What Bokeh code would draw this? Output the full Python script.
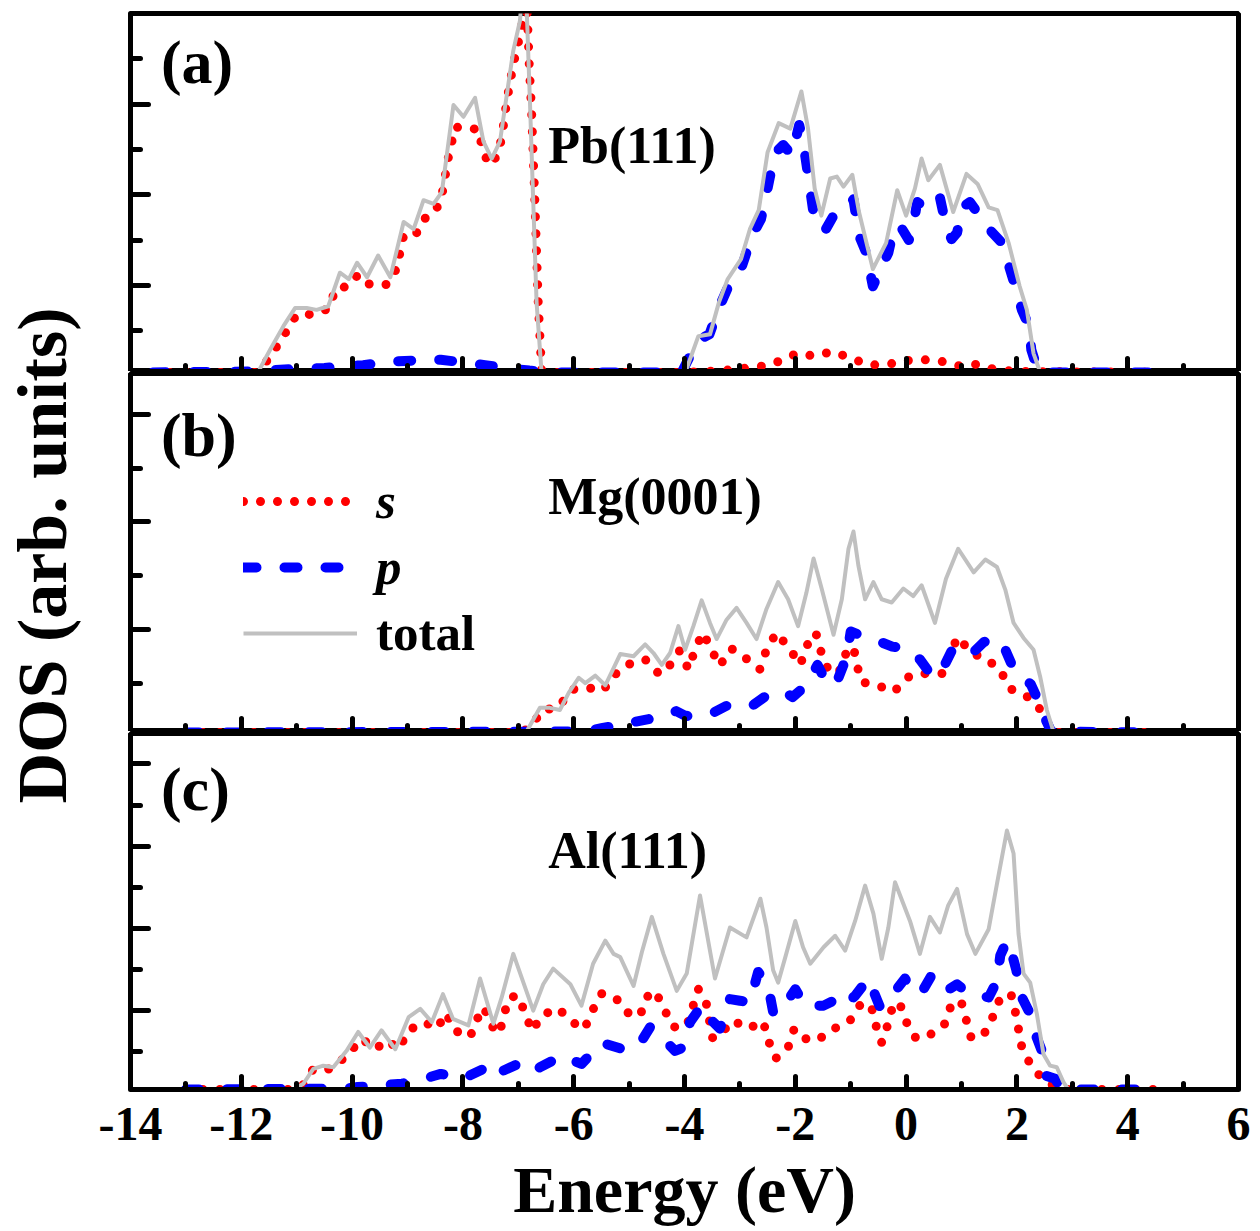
from bokeh.plotting import figure
from bokeh.layouts import column, row
from bokeh.models import Range1d, FixedTicker, Label, Legend, LegendItem
from bokeh.embed import file_html
from bokeh.resources import INLINE

SERIF = "Liberation Serif"

# ---------------- data (energy in eV, DOS in arb. units) ----------------
x_ticks = [-14, -12, -10, -8, -6, -4, -2, 0, 2, 4, 6]
x_tick_labels = ["-14", "-12", "-10", "-8", "-6", "-4", "-2", "0", "2", "4", "6"]
x_minor = [-13, -11, -9, -7, -5, -3, -1, 1, 3, 5]

# Panel (a) Pb(111)
a_total_E = [-13.6, -11.7, -11.48, -11.24, -11.03, -10.82, -10.64, -10.43, -10.22, -10.06, -9.91, -9.73,
             -9.53, -9.31, -9.07, -8.89, -8.71, -8.53, -8.38, -8.17, -7.99, -7.78, -7.63, -7.48, -7.33,
             -7.18, -7.09, -6.97, -6.88, -6.79, -6.73, -6.67, -6.58, -4.0, -3.95, -3.75, -3.54, -3.38,
             -3.22, -2.98, -2.82, -2.66, -2.50, -2.30, -2.09, -1.89, -1.77, -1.65, -1.53, -1.37, -1.25,
             -1.13, -0.97, -0.85, -0.60, -0.36, -0.16, 0.0, 0.16, 0.28, 0.40, 0.61, 0.85, 1.09, 1.29,
             1.49, 1.65, 1.85, 2.05, 2.18, 2.30, 2.42, 4.6]
a_total = [0.04, 0.04, 0.29, 0.55, 0.75, 0.75, 0.73, 0.77, 1.14, 1.07, 1.25, 1.09,
           1.33, 1.09, 1.70, 1.62, 1.94, 1.90, 2.03, 2.99, 2.86, 3.07, 2.59, 2.40, 2.59,
           3.22, 3.59, 3.92, 4.6, 3.03, 1.92, 0.81, 0.04, 0.04, 0.10, 0.44, 0.46, 0.81,
           1.07, 1.29, 1.62, 1.83, 2.47, 2.79, 2.73, 3.14, 2.73, 2.07, 1.77, 2.18, 2.20,
           2.09, 2.22, 1.81, 1.18, 1.47, 2.05, 1.77, 2.07, 2.40, 2.16, 2.33, 1.81, 2.23, 2.12,
           1.86, 1.83, 1.47, 0.99, 0.73, 0.25, 0.04, 0.04]

a_s_E = [-13.6, -11.75, -11.63, -11.42, -11.21, -11.0, -10.70, -10.40, -10.31, -10.07, -9.89, -9.68,
         -9.38, -9.20, -9.07, -8.86, -8.71, -8.50, -8.38, -8.26, -8.14, -7.93, -7.73, -7.66, -7.54,
         -7.39, -7.30, -7.21, -7.09, -7.0, -6.91, -6.87, -6.80, -6.76, -6.70, -6.64, -6.58, -6.5,
         -4.0, -3.63, -3.3, -3.0, -2.66, -2.3, -1.97, -1.65, -1.34, -1.0, -0.68, -0.32, 0.0, 0.32,
         0.65, 0.97, 1.28, 1.61, 2.0, 4.6]
a_s = [0.04, 0.04, 0.09, 0.27, 0.47, 0.68, 0.68, 0.75, 0.96, 0.99, 1.12, 1.01,
       1.01, 1.18, 1.55, 1.55, 1.73, 1.81, 1.99, 2.42, 2.75, 2.72, 2.73, 2.55, 2.33,
       2.42, 2.62, 3.03, 3.44, 3.68, 3.95, 4.5, 3.4, 2.92, 1.92, 0.81, 0.07, 0.04,
       0.04, 0.05, 0.06, 0.08, 0.10, 0.16, 0.25, 0.22, 0.27, 0.20, 0.12, 0.13, 0.17, 0.18,
       0.16, 0.11, 0.13, 0.07, 0.05, 0.04]

a_p_E = [-13.6, -11.8, -11.3, -10.5, -9.8, -9.3, -8.9, -8.4, -8.0, -7.6, -7.1, -6.8, -6.4,
         -4.05, -3.91, -3.75, -3.55, -3.38, -3.2, -2.98, -2.78, -2.62, -2.54, -2.45, -2.38, -2.22,
         -2.06, -1.93, -1.86, -1.77, -1.66, -1.56, -1.45, -1.3, -1.09, -0.95, -0.85, -0.72, -0.6,
         -0.45, -0.32, -0.24, -0.12, 0.05, 0.16, 0.2, 0.4, 0.61, 0.72, 0.82, 0.92, 1.01, 1.15,
         1.28, 1.53, 1.73, 1.86, 1.97, 2.09, 2.22, 2.26, 2.38, 2.5, 4.6]
a_p = [0.04, 0.05, 0.07, 0.09, 0.12, 0.16, 0.17, 0.18, 0.15, 0.12, 0.08, 0.06, 0.04,
       0.04, 0.21, 0.40, 0.46, 0.75, 1.0, 1.18, 1.55, 1.73, 1.95, 2.22, 2.45, 2.55,
       2.44, 2.77, 2.59, 2.22, 1.75, 1.62, 1.62, 1.78, 1.83, 1.95, 1.55, 1.36, 0.99,
       1.2, 1.36, 1.58, 1.67, 1.5, 1.77, 1.92, 1.84, 1.97, 1.66, 1.51, 1.58, 1.86, 1.92,
       1.81, 1.6, 1.47, 1.21, 0.99, 0.73, 0.55, 0.29, 0.06, 0.04, 0.04]

# Panel (b) Mg(0001)
b_total_E = [-13.0, -7.0, -6.85, -6.61, -6.43, -6.25, -6.09, -5.91, -5.79, -5.61, -5.43, -5.28, -5.16,
             -4.92, -4.71, -4.56, -4.41, -4.26, -4.11, -3.99, -3.84, -3.69, -3.54, -3.42, -3.24, -3.06,
             -2.88, -2.70, -2.52, -2.31, -2.13, -1.95, -1.80, -1.67, -1.52, -1.31, -1.16, -1.04, -0.95,
             -0.86, -0.74, -0.59, -0.44, -0.26, -0.05, 0.13, 0.28, 0.52, 0.72, 0.94, 1.22, 1.43, 1.64,
             1.79, 1.94, 2.12, 2.30, 2.42, 2.54, 2.66, 4.5]
b_total = [0.04, 0.04, 0.05, 0.27, 0.27, 0.25, 0.41, 0.55, 0.50, 0.57, 0.48, 0.64, 0.77,
           0.75, 0.86, 0.78, 0.67, 0.78, 1.03, 0.81, 1.03, 1.27, 1.06, 0.91, 1.09, 1.20,
           1.06, 0.91, 1.19, 1.44, 1.28, 1.03, 1.34, 1.66, 1.37, 0.95, 1.28, 1.75, 1.91,
           1.59, 1.28, 1.44, 1.28, 1.25, 1.38, 1.31, 1.41, 1.06, 1.47, 1.75, 1.53, 1.65, 1.58,
           1.37, 1.06, 0.92, 0.81, 0.56, 0.25, 0.05, 0.04]

b_s_E = [-13.0, -7.0, -6.79, -6.57, -6.28, -6.04, -5.77, -5.47, -5.28, -5.04, -4.71, -4.45, -4.26,
         -4.09, -3.93, -3.81, -3.67, -3.51, -3.37, -3.15, -2.89, -2.64, -2.52, -2.34, -2.09, -1.91,
         -1.79, -1.63, -1.54, -1.41, -1.22, -1.09, -0.95, -0.89, -0.80, -0.52, -0.22, 0.07, 0.37,
         0.67, 0.78, 0.94, 1.17, 1.44, 1.70, 1.87, 2.20, 2.47, 2.60, 2.7, 4.5]
b_s = [0.04, 0.04, 0.08, 0.25, 0.27, 0.44, 0.46, 0.43, 0.57, 0.67, 0.72, 0.58, 0.67,
       0.80, 0.63, 0.81, 0.97, 0.81, 0.66, 0.82, 0.73, 0.63, 0.81, 0.97, 0.81, 0.67,
       0.85, 0.97, 0.80, 0.63, 0.59, 0.77, 0.84, 0.67, 0.51, 0.48, 0.42, 0.57, 0.59,
       0.59, 0.77, 0.93, 0.78, 0.73, 0.62, 0.45, 0.37, 0.23, 0.06, 0.04, 0.04]

b_p_E = [-13.0, -5.8, -5.5, -5.0, -4.6, -4.3, -4.15, -4.0, -3.9, -3.5, -3.2, -3.0, -2.75, -2.45,
         -2.2, -2.05, -1.8, -1.6, -1.43, -1.3, -1.22, -1.07, -1.0, -0.9, -0.65, -0.45, -0.25, 0.0,
         0.12, 0.25, 0.42, 0.52, 0.65, 0.85, 1.05, 1.2, 1.4, 1.55, 1.75, 1.9, 2.05, 2.25, 2.42,
         2.52, 2.62, 4.5]
b_p = [0.04, 0.05, 0.08, 0.13, 0.17, 0.21, 0.24, 0.20, 0.19, 0.22, 0.30, 0.28, 0.30, 0.41,
       0.42, 0.37, 0.48, 0.67, 0.50, 0.48, 0.55, 0.75, 0.98, 0.96, 0.92, 0.88, 0.84, 0.82,
       0.78, 0.72, 0.60, 0.56, 0.62, 0.83, 0.80, 0.78, 0.88, 0.92, 0.86, 0.68, 0.57, 0.49, 0.30,
       0.16, 0.05, 0.04]

# Panel (c) Al(111)
c_total_E = [-13.0, -11.06, -10.88, -10.70, -10.52, -10.34, -10.1, -9.89, -9.68, -9.47, -9.22, -8.98,
             -8.77, -8.56, -8.36, -8.18, -7.90, -7.69, -7.45, -7.30, -7.09, -6.73, -6.55, -6.37, -6.06,
             -5.86, -5.65, -5.43, -5.28, -5.16, -4.92, -4.77, -4.59, -4.38, -4.14, -3.96, -3.72, -3.45,
             -3.18, -2.88, -2.63, -2.52, -2.40, -2.31, -2.18, -2.0, -1.86, -1.73, -1.49, -1.28, -1.10,
             -0.92, -0.74, -0.59, -0.44, -0.32, -0.20, -0.05, 0.07, 0.25, 0.43, 0.61, 0.76, 0.92, 1.10,
             1.25, 1.49, 1.64, 1.82, 1.94, 2.03, 2.12, 2.24, 2.36, 2.48, 2.60, 2.72, 2.84, 2.93, 4.73]
c_total = [0.04, 0.04, 0.11, 0.29, 0.33, 0.31, 0.51, 0.74, 0.55, 0.76, 0.53, 0.92,
           1.02, 0.86, 1.20, 0.90, 0.82, 1.39, 0.84, 1.16, 1.69, 1.0, 1.32, 1.51, 1.32,
           1.06, 1.57, 1.85, 1.69, 1.65, 1.30, 1.71, 2.14, 1.69, 1.24, 1.45, 2.40, 1.39,
           2.01, 1.89, 2.36, 2.01, 1.49, 1.34, 1.65, 2.09, 1.77, 1.57, 1.77, 1.91, 1.73,
           2.09, 2.52, 2.18, 1.63, 2.01, 2.56, 2.30, 2.09, 1.69, 2.14, 1.95, 2.28, 2.48, 1.93,
           1.69, 1.99, 2.54, 3.19, 2.91, 1.93, 1.45, 1.34, 0.96, 0.47, 0.33, 0.31, 0.13, 0.04, 0.04]

c_s_E = [-13.0, -11.05, -10.91, -10.70, -10.37, -10.07, -9.83, -9.58, -9.37, -9.16, -8.98, -8.70,
         -8.47, -8.30, -8.16, -7.87, -7.74, -7.62, -7.49, -7.34, -7.26, -7.16, -7.0, -6.88, -6.75,
         -6.58, -6.29, -6.0, -5.81, -5.67, -5.49, -5.21, -4.99, -4.80, -4.69, -4.53, -4.37, -4.20,
         -3.96, -3.75, -3.61, -3.49, -3.30, -3.13, -2.85, -2.58, -2.49, -2.35, -2.13, -2.02, -1.76,
         -1.50, -1.25, -1.01, -0.80, -0.62, -0.54, -0.44, -0.33, -0.24, -0.12, -0.02, 0.18, 0.48,
         0.70, 0.81, 0.99, 1.08, 1.17, 1.38, 1.55, 1.68, 1.89, 1.97, 2.03, 2.09, 2.24, 2.47, 2.79, 4.6]
c_s = [0.04, 0.04, 0.07, 0.29, 0.29, 0.47, 0.66, 0.53, 0.64, 0.53, 0.76, 0.86,
       0.78, 0.97, 0.76, 0.68, 0.90, 1.04, 0.82, 0.72, 0.95, 1.16, 1.18, 0.97, 0.75,
       0.94, 1.03, 0.85, 0.77, 0.99, 1.21, 1.13, 0.95, 0.94, 1.16, 1.24, 1.02, 0.80,
       0.81, 1.26, 1.10, 0.66, 0.75, 0.88, 0.78, 0.87, 0.64, 0.42, 0.55, 0.78, 0.63,
       0.68, 0.80, 0.88, 1.10, 1.03, 0.81, 0.61, 0.83, 1.06, 1.10, 0.89, 0.66, 0.72,
       0.84, 1.06, 1.12, 0.90, 0.68, 0.68, 0.90, 1.12, 1.21, 0.99, 0.77, 0.55, 0.35, 0.16, 0.04, 0.04]

c_p_E = [-13.0, -10.5, -10.0, -9.9, -9.5, -9.1, -8.7, -8.4, -8.0, -7.6, -7.39, -7.27, -6.94, -6.73,
         -6.61, -6.21, -5.86, -5.50, -5.11, -4.83, -4.62, -4.32, -4.17, -4.02, -3.90, -3.69, -3.57,
         -3.36, -3.18, -3.0, -2.82, -2.67, -2.49, -2.40, -2.34, -2.18, -2.0, -1.82, -1.49, -1.31,
         -1.16, -0.92, -0.68, -0.47, -0.26, -0.02, 0.13, 0.28, 0.46, 0.73, 0.92, 1.10, 1.49, 1.64,
         1.70, 1.82, 1.91, 1.99, 2.06, 2.21, 2.33, 2.45, 2.51, 2.69, 2.8, 4.6]
c_p = [0.04, 0.05, 0.06, 0.07, 0.09, 0.11, 0.17, 0.23, 0.17, 0.30, 0.19, 0.27, 0.37, 0.27,
       0.31, 0.45, 0.35, 0.61, 0.53, 0.57, 0.80, 0.61, 0.51, 0.55, 0.86, 1.06, 0.92,
       0.78, 1.14, 1.12, 1.10, 1.47, 1.30, 0.98, 0.96, 1.08, 1.26, 1.06, 1.06, 1.12,
       1.04, 1.18, 1.39, 1.04, 1.18, 1.39, 1.22, 1.22, 1.43, 1.24, 1.32, 1.22, 1.16, 1.36,
       1.67, 1.85, 1.69, 1.49, 1.20, 1.0, 0.72, 0.51, 0.21, 0.17, 0.04, 0.04]

panel_tags = ["(a)", "(b)", "(c)"]
surfaces = ["Pb(111)", "Mg(0001)", "Al(111)"]
legend_labels = ["s", "p", "total"]
y_ranges = [(0.05, 4.0), (0.05, 3.38), (0.04, 4.37)]
y_major = [[1, 2, 3, 4], [1, 2, 3], [1, 2, 3, 4]]
y_minor = [[0.5, 1.5, 2.5, 3.5], [0.5, 1.5, 2.5, 3.5], [0.5, 1.5, 2.5, 3.5, 4.5]]

# ---------------- layout / styling ----------------
LAB_W = 90
LEFT, RIGHT, FRAME_W = 40, 14, 1108
W = LEFT + FRAME_W + RIGHT
H_A, H_B, H_C = 371, 360, 498
S_COLOR, P_COLOR, T_COLOR = "#ff0000", "#0000ff", "#c0c0c0"


def style_axes(p, show_x_labels):
    for ax in p.xaxis:
        ax.ticker = FixedTicker(ticks=x_ticks, minor_ticks=x_minor)
        ax.major_tick_in = 13
        ax.minor_tick_in = 6
        ax.major_tick_out = 0
        ax.minor_tick_out = 0
        ax.major_tick_line_width = 5
        ax.minor_tick_line_width = 5
        ax.major_tick_line_cap = "round"
        ax.minor_tick_line_cap = "round"
        ax.axis_line_width = 5
        if show_x_labels:
            ax.major_label_overrides = {t: lab for t, lab in zip(x_ticks, x_tick_labels)}
            ax.major_label_text_font = SERIF
            ax.major_label_text_font_style = "bold"
            ax.major_label_text_font_size = "48px"
            ax.major_label_text_color = "black"
            ax.major_label_standoff = 18
        else:
            ax.major_label_text_color = None
            ax.major_label_text_font_size = "0px"
            ax.major_label_standoff = 0
    for ax in p.yaxis:
        ax.major_tick_in = 18
        ax.minor_tick_in = 10
        ax.major_tick_out = 0
        ax.minor_tick_out = 0
        ax.major_tick_line_width = 5
        ax.minor_tick_line_width = 5
        ax.major_tick_line_cap = "round"
        ax.minor_tick_line_cap = "round"
        ax.axis_line_width = 5
        ax.major_label_text_color = None
        ax.major_label_text_font_size = "0px"
        ax.major_label_standoff = 0


def make_panel(i, height, top, bottom, E_s, s, E_p, pv, E_t, tot, tag_xy, surf_xy):
    p = figure(width=W, height=height, x_range=Range1d(-14, 6), y_range=Range1d(*y_ranges[i]),
               output_backend="svg", toolbar_location=None,
               min_border_left=LEFT, min_border_right=RIGHT,
               min_border_top=top, min_border_bottom=bottom)
    p.grid.visible = False
    p.outline_line_color = "black"
    p.outline_line_width = 5
    p.background_fill_color = "white"
    p.border_fill_color = "white"
    p.yaxis.ticker = FixedTicker(ticks=y_major[i], minor_ticks=y_minor[i])
    style_axes(p, i == 2)

    rs = p.line(E_s, s, line_color=S_COLOR, line_width=9, line_dash="0 17",
                line_cap="round", line_join="round")
    rp = p.line(E_p, pv, line_color=P_COLOR, line_width=10, line_dash="13 28",
                line_cap="round", line_join="round")
    rt = p.line(E_t, tot, line_color=T_COLOR, line_width=4, line_join="round")

    p.add_layout(Label(x=tag_xy[0], y=tag_xy[1], text=panel_tags[i], text_font=SERIF,
                       text_font_style="bold", text_font_size="62px", text_color="black",
                       text_baseline="middle"))
    p.add_layout(Label(x=surf_xy[0], y=surf_xy[1], text=surfaces[i], text_font=SERIF,
                       text_font_style="bold", text_font_size="52px", text_color="black",
                       text_baseline="middle"))
    return p, (rs, rp, rt)


pa, _ = make_panel(0, H_A, 13, 0, a_s_E, a_s, a_p_E, a_p, a_total_E, a_total, (-13.45, 3.46), (-6.46, 2.54))
pb, rb = make_panel(1, H_B, 2, 0, b_s_E, b_s, b_p_E, b_p, b_total_E, b_total, (-13.45, 2.81), (-6.46, 2.24))
pc, _ = make_panel(2, H_C, 2, 140, c_s_E, c_s, c_p_E, c_p, c_total_E, c_total, (-13.45, 3.69), (-6.46, 2.95))

pc.xaxis.axis_label = "Energy (eV)"
pc.xaxis.axis_label_text_font = SERIF
pc.xaxis.axis_label_text_font_style = "bold"
pc.xaxis.axis_label_text_font_size = "66px"
pc.xaxis.axis_label_text_color = "black"
pc.xaxis.axis_label_standoff = 10

# legend in panel (b): one legend per entry (s and p italic, total upright)
leg_rows = [(200, "bold italic"), (134, "bold italic"), (68, "bold")]
for k, (ybox, fstyle) in enumerate(leg_rows):
    leg = Legend(items=[LegendItem(label=legend_labels[k], renderers=[rb[k]])],
                 location=(113, ybox), glyph_width=114, glyph_height=60, label_height=60,
                 label_standoff=19, padding=0, spacing=0, margin=0,
                 border_line_color=None, background_fill_alpha=0,
                 label_text_font=SERIF, label_text_font_style=fstyle,
                 label_text_font_size="51px", label_text_color="black")
    pb.add_layout(leg)

# shared y-axis title in its own narrow canvas to the left of the panels
TOTAL_H = H_A + H_B + H_C
lab = figure(width=LAB_W, height=TOTAL_H, x_range=Range1d(0, LAB_W), y_range=Range1d(0, TOTAL_H),
             output_backend="svg", toolbar_location=None, min_border=0,
             x_axis_type=None, y_axis_type=None)
lab.grid.visible = False
lab.outline_line_color = None
lab.add_layout(Label(x=42, y=TOTAL_H - 555, text="DOS (arb. units)", angle=90, angle_units="deg",
                     text_align="center", text_baseline="middle", text_font=SERIF,
                     text_font_style="bold", text_font_size="70px", text_color="black"))

layout = row(lab, column(pa, pb, pc, spacing=0), spacing=0)
open("out.html", "w").write(file_html(layout, INLINE))
